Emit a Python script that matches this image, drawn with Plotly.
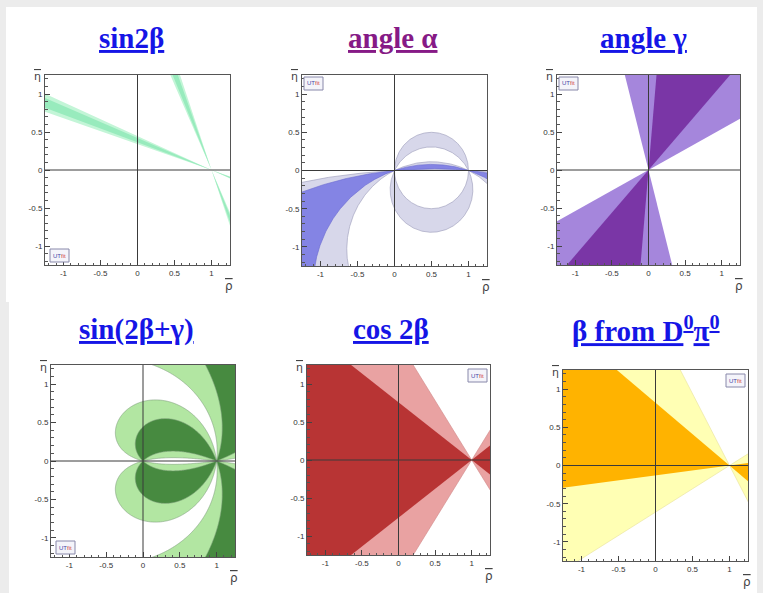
import numpy as np
import plotly.graph_objects as go

W, H = 763, 593

# ---------------- data ----------------
titles = ["sin2β", "angle α", "angle γ", "sin(2β+γ)", "cos 2β", "β from D<sup>0</sup>π<sup>0</sup>"]
title_colors = ["#1515e6", "#861a86", "#1515e6", "#1515e6", "#1515e6", "#1515e6"]
axis_range = [-1.25, 1.25]
tick_vals = [-1, -0.5, 0, 0.5, 1]
tick_text = ["-1", "-0.5", "0", "0.5", "1"]
minor_ticks = [-1.2, -1.1, -0.9, -0.8, -0.7, -0.6, -0.4, -0.3, -0.2, -0.1,
               0.1, 0.2, 0.3, 0.4, 0.6, 0.7, 0.8, 0.9, 1.1, 1.2]

# sin2β: allowed β (deg, at apex (1,0)) -- wide / narrow band, both branches
sin2b_outer = [18.8, 24.0]
sin2b_inner = [20.0, 22.8]
sin2b_alt_outer = [66.0, 71.2]
sin2b_alt_inner = [67.2, 70.0]

# angle α: circles through (0,0) and (1,0), given by centre height k
alpha_ring_k = [0.0, -0.25]
alpha_wide_k = [-1.03, -9.45]
alpha_core_k = [-1.52, -5.16]

# angle γ: allowed γ (deg, at apex (0,0))
gamma_outer = [27.0, 104.5]
gamma_inner = [47.0, 85.0]

# sin(2β+γ): |sin(2β+γ)| lower limits (wide, narrow)
s2bg_levels = [0.25, 0.67]

# cos 2β: allowed β (deg)
cos2b_outer = [-57.4, 57.4]
cos2b_inner = [-37.2, 37.2]

# β from D0π0: allowed β (deg)
bd_outer = [-31.4, 62.0]
bd_inner = [-7.4, 39.4]

# ---------------- layout helpers ----------------
# plot-area frames in pixels: left, top, right, bottom
frames = [(45, 75, 230, 265), (302, 75, 487, 266), (557, 75, 740, 265),
          (51, 365, 235, 557), (307, 365, 490, 555), (563, 370, 748, 561)]
title_pos = [(131, 38), (393, 38), (643, 38), (136, 329), (391, 329), (646, 329)]
logo_corner = ["bl", "tl", "tl", "bl", "tr", "tr"]


def px(x):
    return x / W


def py(y):
    return 1 - y / H


fig = go.Figure()
R = 6.0


def ax_names(i):
    s = "" if i == 0 else str(i + 1)
    return "x" + s, "y" + s


def poly(i, x, y, fill, line=None, lw=0.6):
    xa, ya = ax_names(i)
    fig.add_trace(go.Scatter(x=x, y=y, mode="lines", fill="toself", fillcolor=fill,
                             line=dict(color=line or fill, width=lw if line else 0),
                             xaxis=xa, yaxis=ya, hoverinfo="skip", showlegend=False))


def wedge(apex, th1, th2, n=60):
    t = np.radians(np.linspace(th1, th2, n))
    x = np.concatenate([[apex[0]], apex[0] + R * np.cos(t), [apex[0]]])
    y = np.concatenate([[apex[1]], apex[1] + R * np.sin(t), [apex[1]]])
    return x, y


def beta_cone(i, band, fill, line=None):
    # double cone with apex (1,0); β measured at the apex from the -ρ direction
    b1, b2 = band
    for left in (True, False):
        if left:
            x, y = wedge((1, 0), 180 - b2, 180 - b1)
        else:
            x, y = wedge((1, 0), -b2, -b1)
        poly(i, x, y, fill, line)


def gamma_cone(i, band, fill, line=None):
    g1, g2 = band
    for off in (0.0, 180.0):
        x, y = wedge((0, 0), g1 + off, g2 + off)
        poly(i, x, y, fill, line)


def arc(k, t0, t1, n):
    r = np.hypot(0.5, k)
    t = np.linspace(t0, t1, n)
    return 0.5 + r * np.cos(t), k + r * np.sin(t)


def lunes(i, k_pair, fill, line):
    k_hi, k_lo = max(k_pair), min(k_pair)
    a_hi = np.arctan2(-k_hi, 0.5)
    a_lo = np.arctan2(-k_lo, 0.5)
    x1, y1 = arc(k_hi, a_hi, np.pi - a_hi, 400)
    x2, y2 = arc(k_lo, np.pi - a_lo, a_lo, 400)
    poly(i, np.concatenate([x1, x2]), np.concatenate([y1, y2]), fill, line)
    x3, y3 = arc(k_lo, np.pi - a_lo, a_lo + 2 * np.pi, 3000)
    x4, y4 = arc(k_hi, a_hi + 2 * np.pi, np.pi - a_hi, 3000)
    poly(i, np.concatenate([x3, x4]), np.concatenate([y3, y4]), fill, line)


# ---- panel 1: sin2β ----
beta_cone(0, sin2b_outer, "#c3f5d7")
beta_cone(0, sin2b_alt_outer, "#c3f5d7")
beta_cone(0, sin2b_inner, "#98ebbd")
beta_cone(0, sin2b_alt_inner, "#98ebbd")

# ---- panel 2: angle α ----
lunes(1, alpha_ring_k, "#d7d7ea", "#9a9ab8")
lunes(1, alpha_wide_k, "#d7d7ea", "#9a9ab8")
lunes(1, alpha_core_k, "#8484e4", "#6a6ad0")

# ---- panel 3: angle γ ----
gamma_cone(2, gamma_outer, "#a586dc")
gamma_cone(2, gamma_inner, "#7a36a6")

# ---- panel 4: sin(2β+γ) ----
g = np.linspace(-1.3, 1.3, 561)
RR, EE = np.meshgrid(g, g)
beta_map = np.arctan2(EE, 1 - RR)
gamma_map = np.arctan2(EE, RR)
zmap = np.abs(np.sin(2 * beta_map + gamma_map))
fig.add_trace(go.Contour(
    x=g, y=g, z=zmap, xaxis="x4", yaxis="y4", showscale=False, hoverinfo="skip",
    contours=dict(start=s2bg_levels[0], end=s2bg_levels[1] + 1e-6,
                  size=s2bg_levels[1] - s2bg_levels[0], coloring="fill"),
    colorscale=[[0, "#ffffff"], [0.5, "#b2e6a2"], [1, "#478a40"]],
    line=dict(color="#7c9c7a", width=0.6)))

# ---- panel 5: cos 2β ----
beta_cone(4, cos2b_outer, "#e9a2a2", "#d08888")
beta_cone(4, cos2b_inner, "#b83434")

# ---- panel 6: β from D0π0 ----
beta_cone(5, bd_outer, "#ffffb4", "#e8e09a")
beta_cone(5, bd_inner, "#ffb300")

# ---------------- axes ----------------
layout = dict(width=W, height=H, margin=dict(l=0, r=0, t=0, b=0),
              paper_bgcolor="#ececec", plot_bgcolor="#ffffff", showlegend=False)
shapes = [
    dict(type="rect", xref="paper", yref="paper", x0=px(6), x1=px(757), y0=py(302), y1=py(7),
         fillcolor="#ffffff", line=dict(width=0), layer="below"),
    dict(type="rect", xref="paper", yref="paper", x0=px(9), x1=px(757), y0=py(593), y1=py(302),
         fillcolor="#ffffff", line=dict(width=0), layer="below"),
]
annotations = []

for i, (l, t, r, b) in enumerate(frames):
    xa, ya = ax_names(i)
    common = dict(range=axis_range, showline=True, mirror=True, linecolor="#555555", linewidth=1,
                  ticks="inside", ticklen=5, tickcolor="#444444", tickwidth=1,
                  tickmode="array", tickvals=tick_vals, ticktext=tick_text,
                  tickfont=dict(size=8, color="#333333", family="Arial"),
                  showgrid=False, zeroline=False, layer="above traces", fixedrange=True,
                  minor=dict(tickmode="array", tickvals=minor_ticks, ticks="inside",
                             ticklen=2.5, tickcolor="#555555", showgrid=False))
    layout["xaxis" + xa[1:]] = dict(common, domain=[px(l), px(r)], anchor=ya)
    layout["yaxis" + ya[1:]] = dict(common, domain=[py(b), py(t)], anchor=xa)

    # axis cross lines
    shapes.append(dict(type="line", xref=xa, yref=ya + " domain", x0=0, x1=0, y0=0, y1=1,
                       line=dict(color="#3a3a3a", width=1), layer="above"))
    shapes.append(dict(type="line", xref=xa + " domain", yref=ya, x0=0, x1=1, y0=0, y1=0,
                       line=dict(color="#3a3a3a", width=1), layer="above"))

    # axis titles
    annotations.append(dict(xref="paper", yref="paper", x=px(r - 1), y=py(b + 21),
                            text="<span style='text-decoration:overline'>ρ</span>",
                            showarrow=False, font=dict(size=12, color="#444444", family="DejaVu Sans"),
                            xanchor="center", yanchor="middle"))
    annotations.append(dict(xref="paper", yref="paper", x=px(l - 2), y=py(t + 2),
                            text="<span style='text-decoration:overline'>η</span>",
                            showarrow=False, font=dict(size=11, color="#444444", family="DejaVu Sans"),
                            xanchor="right", yanchor="middle"))

    # small experiment logo box
    c = logo_corner[i]
    lw_, lh_ = 19, 13
    if c == "bl":
        x0, y0 = l + 5, b - 3 - lh_
    elif c == "tl":
        x0, y0 = l + 2, t + 2
    else:
        x0, y0 = r - 3 - lw_, t + 4
    shapes.append(dict(type="rect", xref="paper", yref="paper", x0=px(x0), x1=px(x0 + lw_),
                       y0=py(y0 + lh_), y1=py(y0), fillcolor="#f4f4fa",
                       line=dict(color="#8888aa", width=1), layer="above"))
    annotations.append(dict(xref="paper", yref="paper", x=px(x0 + lw_ / 2), y=py(y0 + lh_ / 2),
                            text="<span style='color:#4848a8'>UT</span><span style='color:#d04848'>fit</span>",
                            showarrow=False, font=dict(size=6, family="Arial"),
                            xanchor="center", yanchor="middle"))

    # panel titles
    tx, ty = title_pos[i]
    annotations.append(dict(xref="paper", yref="paper", x=px(tx), y=py(ty),
                            text="<b><span style='text-decoration:underline'>" + titles[i] + "</span></b>",
                            showarrow=False, xanchor="center", yanchor="middle",
                            font=dict(size=29, color=title_colors[i], family="Liberation Serif")))

layout["shapes"] = shapes
layout["annotations"] = annotations
fig.update_layout(**layout)
fig.write_html("out.html")
